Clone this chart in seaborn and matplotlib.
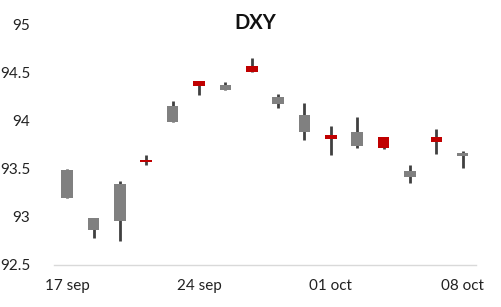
import matplotlib
matplotlib.use("Agg")
import matplotlib.pyplot as plt
import seaborn as sns
import numpy as np

dates = ["17 sep", "18 sep", "19 sep", "20 sep", "21 sep",
         "24 sep", "25 sep", "26 sep", "27 sep", "28 sep",
         "01 oct", "02 oct", "03 oct", "04 oct", "05 oct",
         "08 oct"]
open_ = [93.19, 92.86, 92.96, 93.59, 93.99, 94.41, 94.32, 94.57,
         94.17, 93.88, 93.85, 93.74, 93.83, 93.41, 93.83, 93.63]
high = [93.50, 92.99, 93.37, 93.64, 94.20, 94.41, 94.40, 94.65,
        94.28, 94.18, 93.94, 94.04, 93.83, 93.54, 93.91, 93.68]
low = [93.19, 92.78, 92.75, 93.54, 93.99, 94.27, 94.32, 94.51,
       94.13, 93.80, 93.64, 93.72, 93.70, 93.35, 93.65, 93.51]
close = [93.49, 92.99, 93.34, 93.565, 94.15, 94.365, 94.37, 94.51,
         94.25, 94.06, 93.81, 93.88, 93.72, 93.48, 93.78, 93.66]
tick_labels = {"17 sep": "17 sep", "24 sep": "24 sep", "01 oct": "01 oct", "08 oct": "08 oct"}

sns.set_theme(style="white")
plt.rcParams["font.family"] = ["Lato", "DejaVu Sans"]

fig = plt.figure(figsize=(5.01, 3.07), dpi=100)
ax = fig.add_axes([0.1078, 0.1378, 0.842, 0.7818])

up_color = "#808080"
down_color = "#C00000"
colors = [up_color if c >= o else down_color for o, c in zip(open_, close)]
bottoms = [min(o, c) for o, c in zip(open_, close)]
heights = [max(abs(c - o), 0.012) for o, c in zip(open_, close)]

ax.vlines(dates, low, high, color="#404040", linewidth=2, zorder=1)
ax.bar(dates, heights, bottom=bottoms, width=0.44, color=colors, zorder=2, linewidth=0)

ax.set_xlim(-0.5, len(dates) - 0.5)
ax.set_ylim(92.5, 95)
ax.set_yticks([92.5, 93, 93.5, 94, 94.5, 95])
ax.set_yticklabels(["92.5", "93", "93.5", "94", "94.5", "95"], fontsize=11, color="#222222")

major = [i for i, d in enumerate(dates) if d in tick_labels]
ax.set_xticks(major)
ax.set_xticklabels([tick_labels[dates[i]] for i in major], fontsize=11, color="#222222")
ax.set_xticks(np.arange(-0.5, len(dates), 1.0), minor=True)
ax.tick_params(axis="x", which="major", length=0, pad=10)
ax.tick_params(axis="x", which="minor", length=5, width=1, color="#d9d9d9", direction="out")
ax.tick_params(axis="y", length=0, pad=17)

for s in ["top", "right", "left"]:
    ax.spines[s].set_visible(False)
ax.spines["bottom"].set_color("#d9d9d9")
ax.spines["bottom"].set_linewidth(1)
ax.grid(False)

fig.text(0.509, 0.925, "DXY", ha="center", va="center", fontsize=14.5, fontweight="bold", color="#111111")

fig.savefig("out.png", dpi=100)
